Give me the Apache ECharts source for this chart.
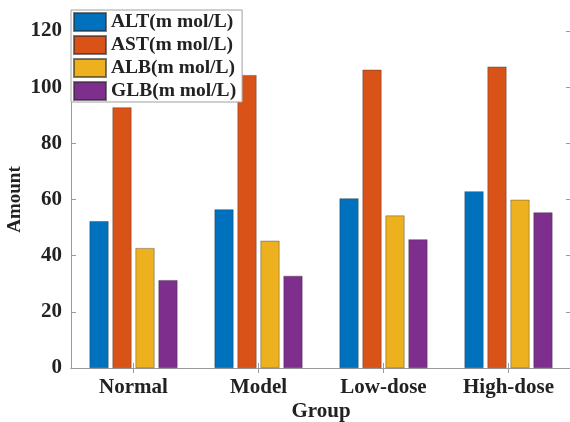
<!DOCTYPE html>
<html>
<head>
<meta charset="utf-8">
<script src="https://cdn.jsdelivr.net/npm/echarts@6/dist/echarts.min.js"></script>
<style>html,body{margin:0;padding:0;background:#fff}#c{width:570px;height:422px}</style>
</head>
<body>
<div id="c"></div>
<script>
const categories = ['Normal', 'Model', 'Low-dose', 'High-dose'];
const seriesNames = ['ALT(m mol/L)', 'AST(m mol/L)', 'ALB(m mol/L)', 'GLB(m mol/L)'];
const altValues = [52.3, 56.5, 60.4, 62.9];
const astValues = [92.8, 104.3, 106.2, 107.3];
const albValues = [42.7, 45.3, 54.3, 59.9];
const glbValues = [31.3, 32.8, 45.8, 55.4];
const yTicks = [0, 20, 40, 60, 80, 100, 120];
const colors = ['#0072BD', '#D95319', '#EDB120', '#7E2F8E'];

const font = '"Liberation Serif", "Times New Roman", serif';
const axisColor = '#9a9a9a';
const textColor = '#222';
const allValues = [altValues, astValues, albValues, glbValues];

const chart = echarts.init(document.getElementById('c'), null, {renderer: 'canvas'});
chart.setOption({
  animation: false,
  backgroundColor: '#fff',
  color: colors,
  grid: {left: 71, top: 31, right: -1, bottom: 54, containLabel: false, outerBoundsMode: 'none'},
  legend: {
    orient: 'vertical', left: 71, top: 10,
    itemWidth: 32, itemHeight: 18, itemGap: 3,
    padding: [2, 6, 1, 2],
    backgroundColor: '#fff', borderColor: '#a0a0a0', borderWidth: 1, borderRadius: 0,
    icon: 'rect',
    textStyle: {fontFamily: font, fontWeight: 'bold', fontSize: 19.5, lineHeight: 19, color: textColor},
    data: seriesNames
  },
  xAxis: [{
    type: 'category', data: categories, position: 'bottom',
    axisLine: {show: true, lineStyle: {color: axisColor, width: 1}},
    axisTick: {show: true, inside: true, alignWithLabel: true, length: 5, lineStyle: {color: axisColor}},
    axisLabel: {fontFamily: font, fontWeight: 'bold', fontSize: 21, color: textColor, margin: 9},
    name: 'Group', nameLocation: 'middle', nameGap: 33, nameMoveOverlap: false,
    nameTextStyle: {fontFamily: font, fontWeight: 'bold', fontSize: 21, color: textColor}
  }, {
    type: 'category', data: categories, position: 'top',
    axisLine: {show: true, lineStyle: {color: axisColor, width: 1}},
    axisTick: {show: true, inside: true, alignWithLabel: true, length: 5, lineStyle: {color: axisColor}},
    axisLabel: {show: false}
  }],
  yAxis: [{
    type: 'value', min: yTicks[0], max: yTicks[yTicks.length - 1], interval: 20,
    axisLine: {show: true, lineStyle: {color: axisColor, width: 1}},
    axisTick: {show: true, inside: true, length: 5, lineStyle: {color: axisColor}},
    splitLine: {show: false},
    axisLabel: {fontFamily: font, fontWeight: 'bold', fontSize: 21, color: textColor, margin: 9},
    name: 'Amount', nameLocation: 'middle', nameGap: 46, nameMoveOverlap: false,
    nameTextStyle: {fontFamily: font, fontWeight: 'bold', fontSize: 19, color: textColor}
  }, {
    type: 'value', position: 'right', min: yTicks[0], max: yTicks[yTicks.length - 1], interval: 20,
    axisLine: {show: true, lineStyle: {color: axisColor, width: 1}},
    axisTick: {show: true, inside: true, length: 5, lineStyle: {color: axisColor}},
    splitLine: {show: false},
    axisLabel: {show: false}
  }],
  series: seriesNames.map((n, i) => ({
    name: n, type: 'bar', data: allValues[i],
    xAxisIndex: 0, yAxisIndex: 0,
    barWidth: 19, barGap: '21%',
    itemStyle: {color: colors[i], borderColor: 'rgba(40,40,40,0.6)', borderWidth: 0.6}
  }))
});
</script>
</body>
</html>
